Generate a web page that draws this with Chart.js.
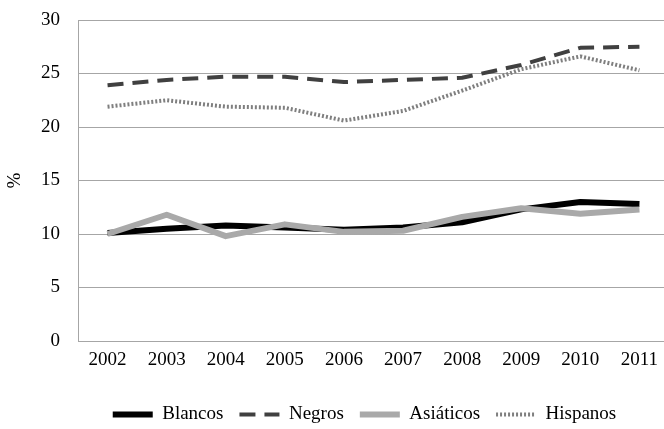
<!DOCTYPE html>
<html>
<head>
<meta charset="utf-8">
<script src="https://cdn.jsdelivr.net/npm/chart.js@4"></script>
<style>
  html, body { margin: 0; padding: 0; background: #fff; overflow: hidden; }
  #wrap { width: 672px; height: 429px; position: relative; }
</style>
</head>
<body>
<div id="wrap"><canvas id="chart"></canvas></div>
<script>
// data
const years = ['2002', '2003', '2004', '2005', '2006', '2007', '2008', '2009', '2010', '2011'];
const blancos   = [10.1, 10.5, 10.8, 10.6, 10.4, 10.6, 11.1, 12.3, 13.0, 12.8];
const negros    = [23.9, 24.4, 24.7, 24.7, 24.2, 24.4, 24.6, 25.8, 27.4, 27.5];
const asiaticos = [10.0, 11.8, 9.8, 10.9, 10.2, 10.3, 11.6, 12.4, 11.9, 12.3];
const hispanos  = [21.9, 22.5, 21.9, 21.8, 20.6, 21.5, 23.4, 25.4, 26.6, 25.3];

const yMin = 0, yMax = 30, yStep = 5;

Chart.defaults.font.family = "'Liberation Serif', 'DejaVu Serif', serif";
Chart.defaults.font.size = 19;
Chart.defaults.color = '#000';

const gridGray = '#a6a6a6';

// nudge the legend so it sits where the original one does
const legendNudge = {
  id: 'legendNudge',
  afterLayout(chart) {
    const lg = chart.legend;
    if (!lg) return;
    lg.left += 30; lg.right += 30;
    lg.top += 5; lg.bottom += 5;
  }
};

new Chart(document.getElementById('chart'), {
  type: 'line',
  data: {
    labels: years,
    datasets: [
      { label: 'Blancos', data: blancos, borderColor: '#000', backgroundColor: '#000',
        borderWidth: 6, order: 4 },
      { label: 'Negros', data: negros, borderColor: '#404040', backgroundColor: '#404040',
        borderWidth: 4, borderDash: [16, 9], order: 3 },
      { label: 'Asiáticos', data: asiaticos, borderColor: '#a9a9a9', backgroundColor: '#a9a9a9',
        borderWidth: 6, order: 2 },
      { label: 'Hispanos', data: hispanos, borderColor: '#7f7f7f', backgroundColor: '#7f7f7f',
        borderWidth: 4, borderDash: [2, 2], order: 1 }
    ]
  },
  options: {
    responsive: true,
    maintainAspectRatio: false,
    animation: false,
    layout: { padding: { top: 20, right: 3, left: 0, bottom: 0 } },
    elements: {
      point: { radius: 0, hoverRadius: 0 },
      line: { tension: 0, borderCapStyle: 'butt', borderJoinStyle: 'round', fill: false }
    },
    plugins: {
      tooltip: { enabled: false },
      legend: {
        position: 'bottom',
        labels: {
          usePointStyle: true,
          pointStyle: 'line',
          pointStyleWidth: 40,
          padding: 16,
          sort: (a, b) => a.datasetIndex - b.datasetIndex,
          generateLabels(chart) {
            const items = Chart.defaults.plugins.legend.labels.generateLabels(chart);
            items.forEach(it => {
              const ds = chart.data.datasets[it.datasetIndex];
              it.lineDash = ds.borderDash || [];
              it.lineWidth = ds.borderWidth;
              it.strokeStyle = ds.borderColor;
              it.lineCap = 'butt';
            });
            return items;
          }
        }
      }
    },
    scales: {
      x: {
        offset: true,
        grid: { display: false, drawTicks: false },
        border: { display: true, color: gridGray, width: 1 },
        ticks: { padding: 8, maxRotation: 0 },
        afterFit(s) { s.height = 43; }
      },
      y: {
        min: yMin,
        max: yMax,
        ticks: { stepSize: yStep, padding: 0 },
        grid: { color: gridGray, lineWidth: 1, drawTicks: true, tickLength: 18, tickColor: 'rgba(0,0,0,0)' },
        border: { display: true, color: gridGray, width: 1 },
        title: { display: true, text: '%', padding: { top: 4, bottom: 4 } },
        afterFit(s) { s.width = 78; }
      }
    }
  },
  plugins: [legendNudge]
});
</script>
</body>
</html>
